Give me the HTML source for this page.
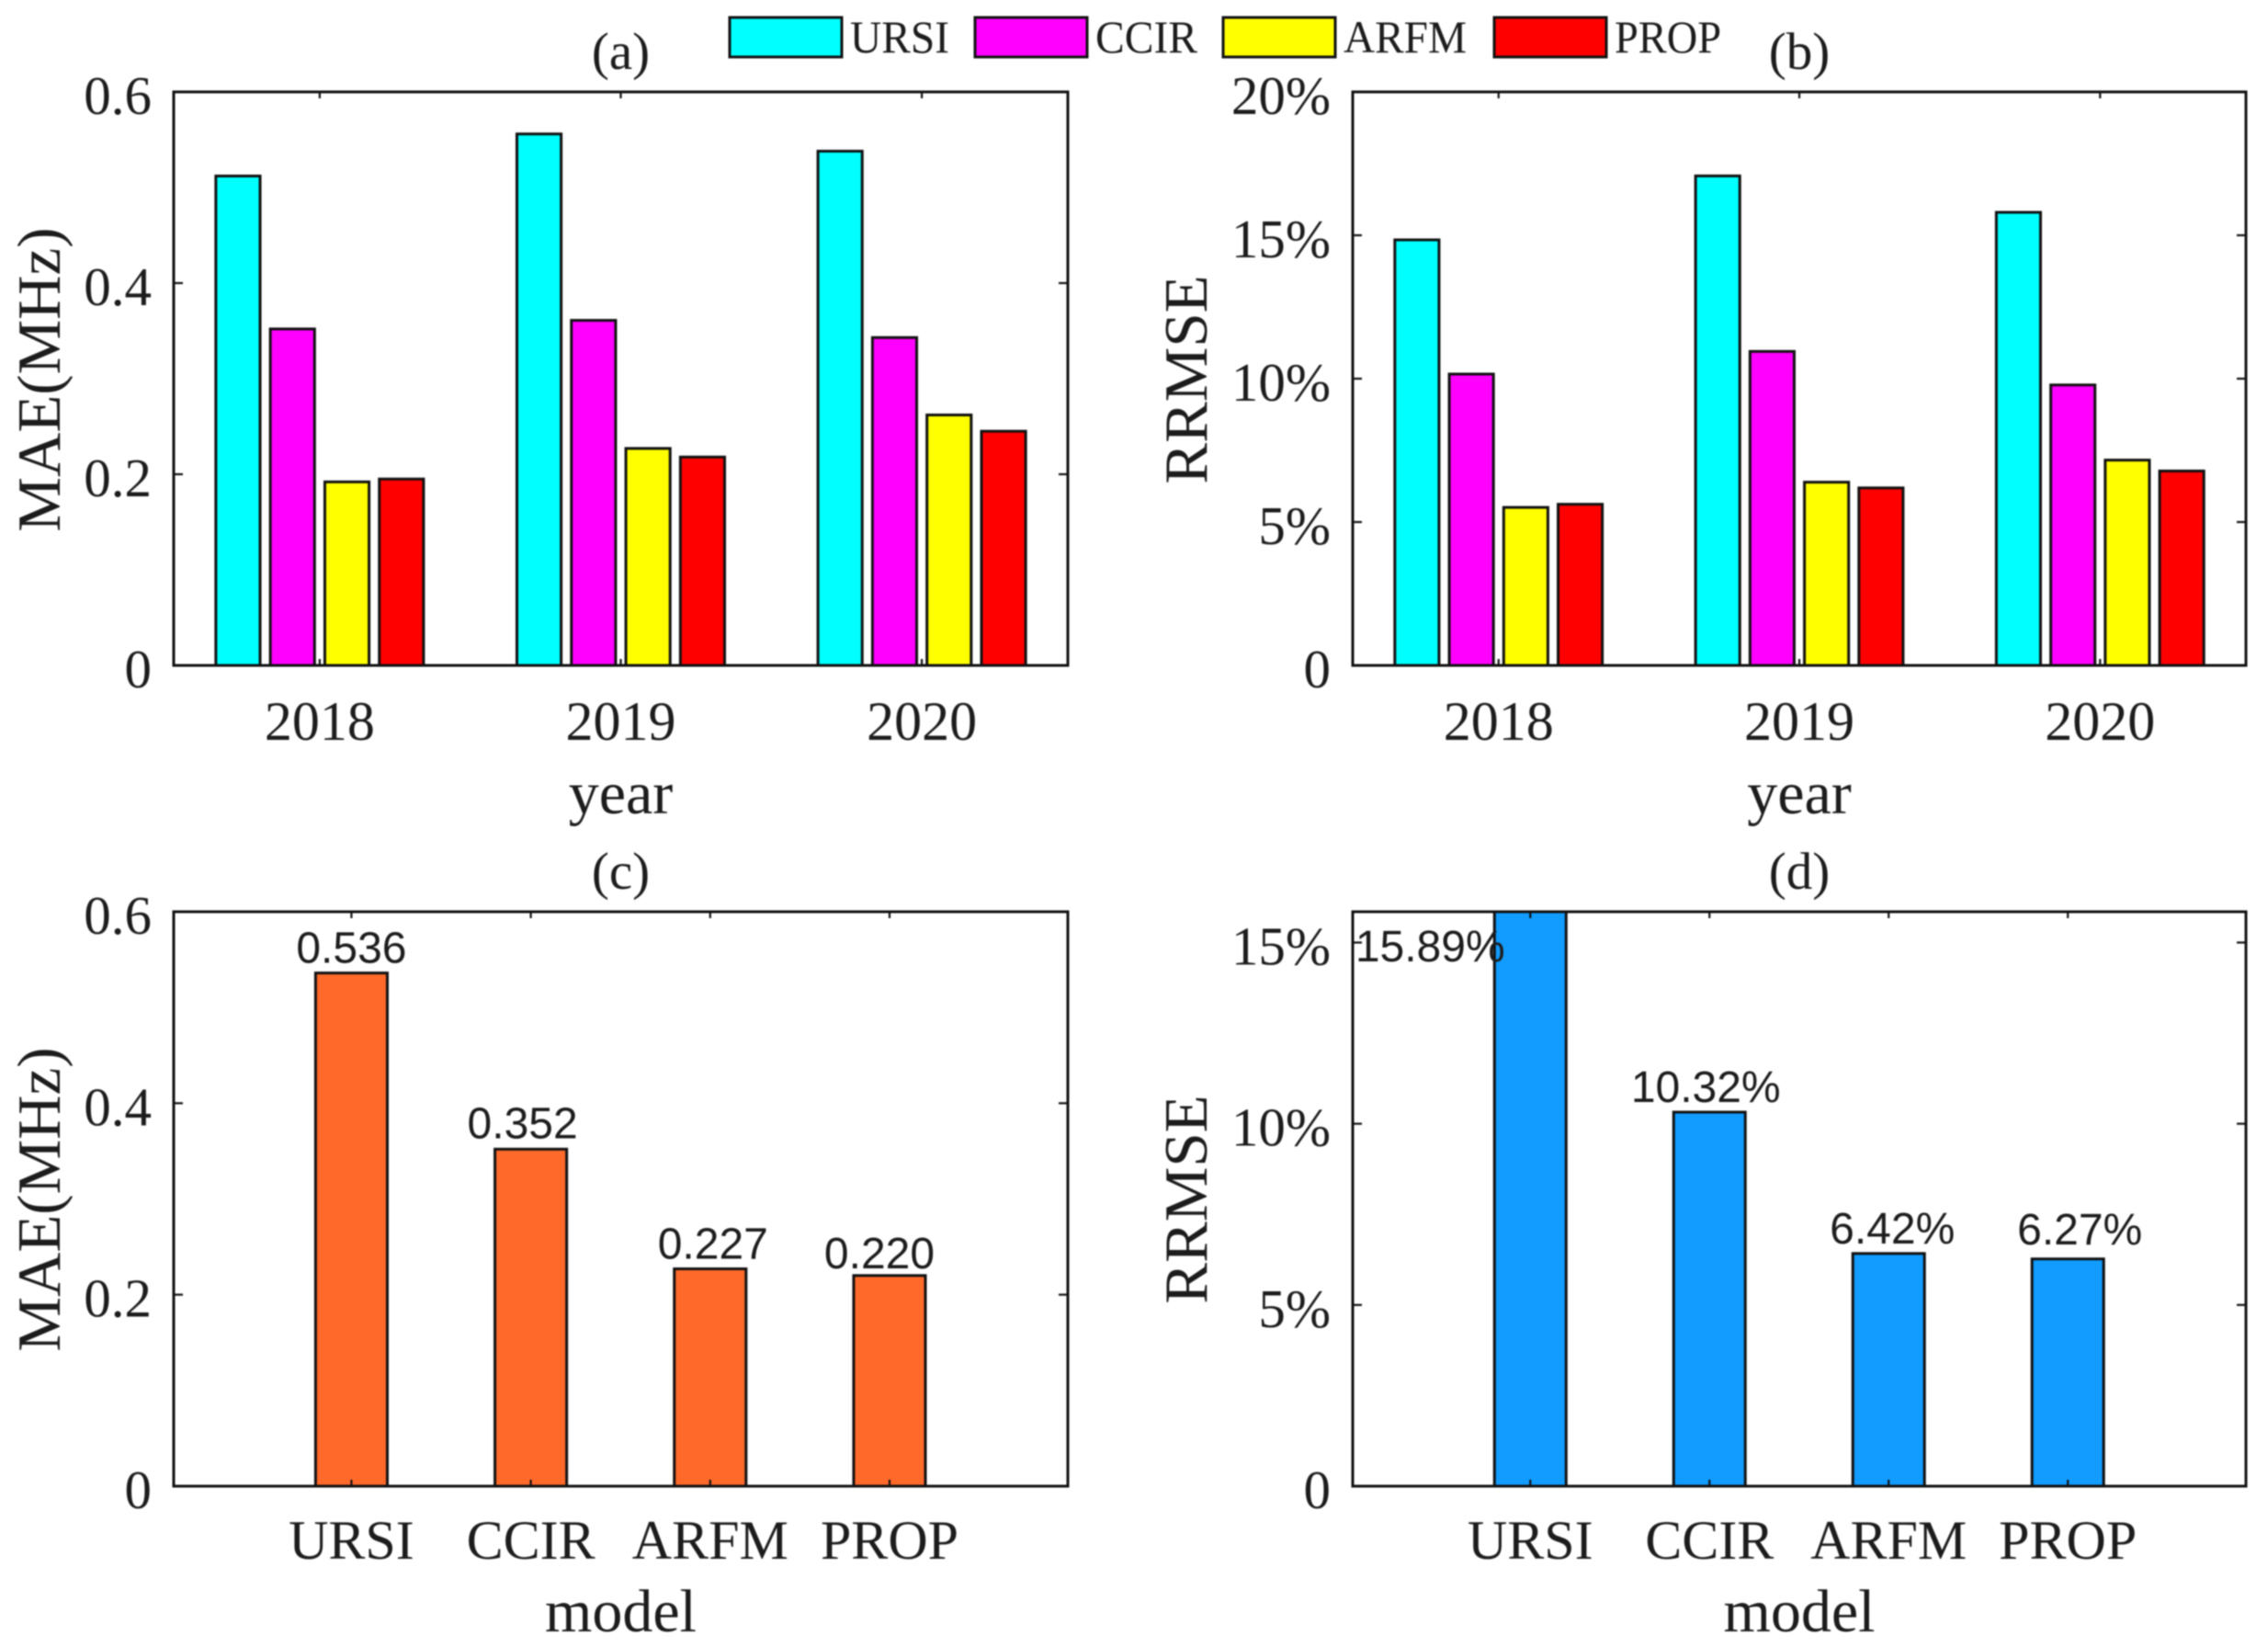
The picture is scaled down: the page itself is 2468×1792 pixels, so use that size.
<!DOCTYPE html>
<html>
<head>
<meta charset="utf-8">
<title>Model comparison bar charts</title>
<style>
html,body{margin:0;padding:0;background:#fff;}
#figure{display:block;width:2468px;height:1792px;filter:blur(0.9px);}
text{fill:#1c1c1c;font-family:"Liberation Serif",serif;}
</style>
</head>
<body>
<svg id="figure" xmlns="http://www.w3.org/2000/svg" width="2468" height="1792" viewBox="0 0 2468 1792"></svg>
<script>
var years = ['2018', '2019', '2020'];
var models = ['URSI', 'CCIR', 'ARFM', 'PROP'];
var seriesColors = ['#00ffff', '#ff00ff', '#ffff00', '#ff0000'];

var maeUrsi = [0.512, 0.556, 0.538];
var maeCcir = [0.352, 0.361, 0.343];
var maeArfm = [0.192, 0.227, 0.262];
var maeProp = [0.195, 0.218, 0.245];

var rrmseUrsi = [14.84, 17.07, 15.80];
var rrmseCcir = [10.16, 10.95, 9.78];
var rrmseArfm = [5.51, 6.39, 7.16];
var rrmseProp = [5.62, 6.19, 6.78];

var maeOverall = [0.536, 0.352, 0.227, 0.220];
var rrmseOverall = [15.89, 10.32, 6.42, 6.27];

var maeTicks = [0, 0.2, 0.4, 0.6];
var maeTickLabels = ['0', '0.2', '0.4', '0.6'];
var rrmseTicksTop = [0, 5, 10, 15, 20];
var rrmseTickLabelsTop = ['0', '5%', '10%', '15%', '20%'];
var rrmseTicksBottom = [0, 5, 10, 15];
var rrmseTickLabelsBottom = ['0', '5%', '10%', '15%'];

var svg = document.getElementById('figure');
var NS = 'http://www.w3.org/2000/svg';
var INK = '#111111';
var STROKE = 3;

function make(tag, attrs, parent) {
  var node = document.createElementNS(NS, tag);
  for (var k in attrs) node.setAttribute(k, attrs[k]);
  parent.appendChild(node);
  return node;
}

function drawFrame(g, box, xTicks, yTicks, xOf, yOf) {
  var frame = make('rect', {x: box.l, y: box.t, width: box.r - box.l, height: box.b - box.t, fill: 'none', stroke: INK, 'stroke-width': STROKE}, g);
  
  
  xTicks.forEach(function (v) {
    var x = xOf(v);
    var tb = make('line', {x1: x, x2: x, y1: box.b, y2: box.b - 7, stroke: INK, 'stroke-width': 2.2}, g);
    
    
    var tt = make('line', {x1: x, x2: x, y1: box.t, y2: box.t + 7, stroke: INK, 'stroke-width': 2.2}, g);
    
    
  });
  yTicks.forEach(function (v) {
    var y = yOf(v);
    var tl = make('line', {x1: box.l, x2: box.l + 10, y1: y, y2: y, stroke: INK, 'stroke-width': 2.2}, g);
    
    
    var tr = make('line', {x1: box.r, x2: box.r - 10, y1: y, y2: y, stroke: INK, 'stroke-width': 2.2}, g);
    
    
  });
}

function drawAxisText(g, box, opts, xOf, yOf) {
  var cx = (box.l + box.r) / 2;
  var title = make('text', {x: cx, y: box.t - 25, 'text-anchor': 'middle', 'font-size': 57}, g);
  title.textContent = opts.title;
  
  

  opts.xLabels.forEach(function (lab, i) {
    var t = make('text', {x: xOf(i + 1), y: box.b + opts.xTickDy, 'text-anchor': 'middle', 'font-size': 60}, g);
    t.textContent = lab;
    
    
  });

  opts.yTicks.forEach(function (v, i) {
    var t = make('text', {x: box.l - 24, y: yOf(v) + 24, 'text-anchor': 'end', 'font-size': 59}, g);
    t.textContent = opts.yTickLabels[i];
    
    
  });

  var xl = make('text', {x: cx, y: box.b + opts.xTitleDy, 'text-anchor': 'middle', 'font-size': 66}, g);
  xl.textContent = opts.xTitle;
  
  

  var yx = opts.yTitleX;
  var yy = box.t + 313;
  var yl = make('text', {x: yx, y: yy, 'text-anchor': 'middle', 'font-size': 67, transform: 'rotate(-90 ' + yx + ' ' + yy + ')'}, g);
  yl.textContent = opts.yTitle;
  
  
}

function groupedPanel(box, opts, series) {
  var g = make('g', {}, svg);
  
  
  var xMin = 0.515, xMax = 3.485;
  var unit = (box.r - box.l) / (xMax - xMin);
  var xOf = function (v) { return box.l + (v - xMin) * unit; };
  var yOf = function (v) { return box.b - v / opts.yMax * (box.b - box.t); };
  var slot = 0.181, width = 0.147;
  series.forEach(function (vals, s) {
    vals.forEach(function (v, i) {
      var center = xOf(i + 1) + (s - 1.5) * slot * unit;
      var top = yOf(v);
      var bar = make('rect', {x: center - width * unit / 2, y: top, width: width * unit, height: box.b - top, fill: seriesColors[s], stroke: INK, 'stroke-width': STROKE}, g);
      
      
    });
  });
  drawFrame(g, box, [1, 2, 3], opts.yTicks, xOf, yOf);
  drawAxisText(g, box, opts, xOf, yOf);
}

function singlePanel(box, opts, values) {
  var g = make('g', {}, svg);
  
  
  var xMin = 0.009, xMax = 4.994;
  var unit = (box.r - box.l) / (xMax - xMin);
  var xOf = function (v) { return box.l + (v - xMin) * unit; };
  var yOf = function (v) { return box.b - Math.min(v, opts.yMax) / opts.yMax * (box.b - box.t); };
  var width = 0.4;
  values.forEach(function (v, i) {
    var center = xOf(i + 1);
    var top = yOf(v);
    var bar = make('rect', {x: center - width * unit / 2, y: top, width: width * unit, height: box.b - top, fill: opts.color, stroke: INK, 'stroke-width': STROKE}, g);
    
    
  });
  drawFrame(g, box, [1, 2, 3, 4], opts.yTicks, xOf, yOf);
  drawAxisText(g, box, opts, xOf, yOf);
  values.forEach(function (v, i) {
    var clipped = v > opts.yMax;
    var lx = clipped ? xOf(i + 1) - 109 : xOf(i + 1) + opts.labelDx[i];
    var ly = clipped ? box.t + 54 : yOf(v) - 11 + opts.labelDy[i];
    var t = make('text', {x: lx, y: ly, 'text-anchor': 'middle', 'font-size': 48, style: 'font-family:"Liberation Sans",sans-serif'}, g);
    t.textContent = opts.format(v);
    
    
  });
}

groupedPanel({l: 189, r: 1162, t: 100, b: 724}, {
  name: 'panel-a-mae-by-year', title: '(a)', yMax: 0.6, yTicks: maeTicks, yTickLabels: maeTickLabels,
  xLabels: years, xTitle: 'year', yTitle: 'MAE(MHz)', yTitleX: 65, xTickDy: 81, xTitleDy: 161
}, [maeUrsi, maeCcir, maeArfm, maeProp]);

groupedPanel({l: 1472, r: 2444, t: 100, b: 724}, {
  name: 'panel-b-rrmse-by-year', title: '(b)', yMax: 20, yTicks: rrmseTicksTop, yTickLabels: rrmseTickLabelsTop,
  xLabels: years, xTitle: 'year', yTitle: 'RRMSE', yTitleX: 1313, xTickDy: 81, xTitleDy: 161
}, [rrmseUrsi, rrmseCcir, rrmseArfm, rrmseProp]);

singlePanel({l: 189, r: 1162, t: 992, b: 1617}, {
  name: 'panel-c-mae-by-model', title: '(c)', yMax: 0.6, yTicks: maeTicks, yTickLabels: maeTickLabels,
  xLabels: models, xTitle: 'model', yTitle: 'MAE(MHz)', yTitleX: 65, xTickDy: 79, xTitleDy: 158,
  color: '#ff6a2b', format: function (v) { return v.toFixed(3); },
  labelDx: [0, -9, 3, -11], labelDy: [0, -1, 0, 3]
}, maeOverall);

singlePanel({l: 1472, r: 2444, t: 992, b: 1617}, {
  name: 'panel-d-rrmse-by-model', title: '(d)', yMax: 15.85, yTicks: rrmseTicksBottom, yTickLabels: rrmseTickLabelsBottom,
  xLabels: models, xTitle: 'model', yTitle: 'RRMSE', yTitleX: 1313, xTickDy: 79, xTitleDy: 158,
  color: '#129cff', format: function (v) { return v.toFixed(2) + '%'; },
  labelDx: [0, -4, 4, 13], labelDy: [0, 0, 0, -5]
}, rrmseOverall);

var legend = make('g', {}, svg);


var legendStarts = [794, 1061, 1331, 1626];
var legendTextWidths = [108, 111, 134, 116];
models.forEach(function (m, i) {
  var x0 = legendStarts[i];
  var sw = make('rect', {x: x0, y: 19, width: 122, height: 43, fill: seriesColors[i], stroke: INK, 'stroke-width': STROKE}, legend);
  
  
  var t = make('text', {x: x0 + 131, y: 57, 'font-size': 50, textLength: legendTextWidths[i], lengthAdjust: 'spacingAndGlyphs'}, legend);
  t.textContent = m;
  
  
});
</script>
</body>
</html>
